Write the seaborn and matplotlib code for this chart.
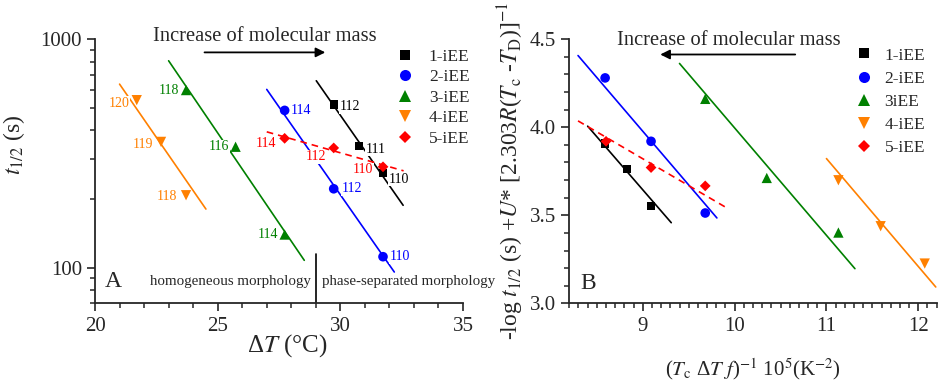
import matplotlib
matplotlib.use("Agg")
import numpy as np
import pandas as pd
import matplotlib.pyplot as plt
import matplotlib.ticker as mticker
import seaborn as sns

# ── series ──
SERIES_A = ['1-iEE', '2-iEE', '3-iEE', '4-iEE', '5-iEE']
SERIES_B = ['1-iEE', '2-iEE', '3iEE', '4-iEE', '5-iEE']
COLORS = ['#000000', '#0000ff', '#008000', '#ff8000', '#ff0000']
MARKERS = ['s', 'o', '^', 'v', 'D']
SIZES = [36, 48, 55, 55, 30]

# ── panel A: t1/2 vs dT ──
A_DT = [[29.73, 30.75, 31.74], [27.73, 29.73, 31.74], [23.71, 25.73, 27.73],
        [21.70, 22.69, 23.71], [27.73, 29.73, 31.74]]
A_T = [[519, 341, 260], [489, 222, 112], [600, 339, 140],
       [542, 356, 208], [369, 335, 277]]
A_LABELS = [['112', '111', '110'], ['114', '112', '110'], ['118', '116', '114'],
            ['120', '119', '118'], ['114', '112', '110']]
A_FIT_DT = [(29.02, 32.56), (27.0, 32.2), (23.0, 28.53), (21.0, 24.52), (27.0, 32.58)]
A_FIT_T = [(659, 188), (604, 96), (806, 108), (637, 181), (394, 266)]
BOUNDARY_DT = 29.0
BOUNDARY_TOP = 115

# ── panel B ──
B_X = [[8.59, 8.83, 9.09], [8.59, 9.09, 9.68], [9.68, 10.35, 11.13],
       [11.13, 11.59, 12.07], [8.60, 9.09, 9.68]]
B_Y = [[3.907, 3.761, 3.551], [4.280, 3.920, 3.513], [4.161, 3.712, 3.402],
       [3.699, 3.438, 3.226], [3.920, 3.771, 3.667]]
B_FIT_X = [(8.40, 9.31), (8.295, 9.807), (9.40, 11.31), (11.0, 12.19), (8.295, 9.908)]
B_FIT_Y = [(4.006, 3.458), (4.407, 3.485), (4.362, 3.197), (3.822, 3.093), (4.036, 3.544)]

# label offsets (pixels) for panel A point labels
LABEL_OFFSETS = [[(6, -2), (7, -3), (6, -6)],
                 [(6, 0), (8, 0), (7, 0)],
                 [(-7, 0), (-6, 0), (-6, 0)],
                 [(-7, -3), (-8, -3), (-9, -1)],
                 [(-8, -5), (-7, -9), (-10, -3)]]

sns.set_style('ticks')
plt.rcParams['font.family'] = ['Liberation Serif', 'DejaVu Serif']
plt.rcParams['mathtext.fontset'] = 'stix'
plt.rcParams['axes.linewidth'] = 1.3

fig = plt.figure(figsize=(9.41, 3.84), dpi=100)
axA = fig.add_axes([0.101, 0.210, 0.391, 0.6875])
axB = fig.add_axes([0.605, 0.210, 0.3904, 0.688])


def make_df(xs, ys, names):
    rows = []
    for name, xx, yy in zip(names, xs, ys):
        for a, b in zip(xx, yy):
            rows.append({'x': a, 'y': b, 'series': name})
    return pd.DataFrame(rows)


def draw(ax, xs, ys, names, fit_x, fit_y):
    for i in range(len(names)):
        ls = (0, (4, 3)) if i == 4 else '-'
        ax.plot(fit_x[i], fit_y[i], color=COLORS[i], lw=1.2, ls=ls, zorder=2)
    df = make_df(xs, ys, names)
    sns.scatterplot(data=df, x='x', y='y', hue='series', style='series', size='series',
                    palette=dict(zip(names, COLORS)), markers=dict(zip(names, MARKERS)),
                    sizes=dict(zip(names, SIZES)), hue_order=names, style_order=names,
                    size_order=names, edgecolor='none', linewidth=0, ax=ax, zorder=4)
    for side in ['top', 'right']:
        ax.spines[side].set_visible(False)
    ax.tick_params(which='major', direction='out', length=6, width=1.2, labelsize=15)
    ax.tick_params(which='minor', direction='out', length=3.5, width=1.1)


# ── panel A ──
draw(axA, A_DT, A_T, SERIES_A, A_FIT_DT, A_FIT_T)
axA.set_yscale('log')
axA.set_xlim(20, 35)
axA.set_ylim(70, 1000)
axA.xaxis.set_major_locator(mticker.MultipleLocator(5))
axA.xaxis.set_minor_locator(mticker.MultipleLocator(1))
axA.yaxis.set_major_locator(mticker.LogLocator(base=10, numticks=5))
axA.yaxis.set_major_formatter(mticker.FormatStrFormatter('%d'))
axA.yaxis.set_minor_locator(mticker.LogLocator(base=10, subs=np.arange(2, 10), numticks=20))
axA.yaxis.set_minor_formatter(mticker.NullFormatter())

for i in range(5):
    for x, y, lab, off in zip(A_DT[i], A_T[i], A_LABELS[i], LABEL_OFFSETS[i]):
        ha = 'left' if off[0] > 0 else 'right'
        axA.annotate(lab, (x, y), xytext=off, textcoords='offset pixels',
                     ha=ha, va='center', fontsize=10, color=COLORS[i], zorder=3,
                     bbox=dict(boxstyle='square,pad=0.05', fc='white', ec='none'))

axA.plot([BOUNDARY_DT, BOUNDARY_DT], [70, BOUNDARY_TOP], color='black', lw=1.2)
axA.text(28.78, 87, 'homogeneous morphology', ha='right', va='center', fontsize=10.8)
axA.text(29.25, 87, 'phase-separated morphology', ha='left', va='center', fontsize=10.8,
         clip_on=False)
axA.text(20.4, 87, 'A', ha='left', va='center', fontsize=17)
axA.text(26.94, 1026, 'Increase of molecular mass', ha='center', va='center',
         fontsize=14.8, clip_on=False)
axA.annotate('', xy=(29.5, 877), xytext=(24.35, 877),
             arrowprops=dict(arrowstyle='-|>', color='black', lw=1.3, mutation_scale=14))

axA.set_xlabel('Δ$T$ (°C)', fontsize=18)
axA.set_ylabel('$t_{1/2}$ (s)', fontsize=17)
axA.xaxis.set_label_coords(0.522, -0.11)
axA.yaxis.set_label_coords(-0.185, 0.6)

sns.move_legend(axA, loc='upper left', bbox_to_anchor=(0.82, 0.965), frameon=False,
                title=None, fontsize=12.5, handlelength=1.0, handletextpad=0.85,
                labelspacing=0.25, borderaxespad=0, borderpad=0, markerscale=1.15)

# ── panel B ──
draw(axB, B_X, B_Y, SERIES_B, B_FIT_X, B_FIT_Y)
axB.set_xlim(8.2, 12.2)
axB.set_ylim(3.0, 4.5)
axB.xaxis.set_major_locator(mticker.MultipleLocator(1))
axB.xaxis.set_minor_locator(mticker.MultipleLocator(0.1))
axB.yaxis.set_major_locator(mticker.MultipleLocator(0.5))
axB.yaxis.set_minor_locator(mticker.MultipleLocator(0.1))
axB.yaxis.set_major_formatter(mticker.FormatStrFormatter('%.1f'))

axB.text(8.325, 3.114, 'B', ha='left', va='center', fontsize=17)
axB.text(9.94, 4.494, 'Increase of molecular mass', ha='center', va='center',
         fontsize=14.8, clip_on=False)
axB.annotate('', xy=(9.16, 4.413), xytext=(10.69, 4.413),
             arrowprops=dict(arrowstyle='-|>', color='black', lw=1.3, mutation_scale=14))

axB.set_xlabel(r'($T_{\rm c}$ Δ$T$ $f$)$^{-1}$ 10$^{5}$(K$^{-2}$)', fontsize=15)
axB.set_ylabel(r'-log $t_{1/2}$ (s) +$U$* [2.303$R$($T_{\rm c}$ -$T_{\rm D}$)]$^{-1}$',
               fontsize=17)
axB.xaxis.set_label_coords(0.5, -0.2)
axB.yaxis.set_label_coords(-0.118, 0.5)

sns.move_legend(axB, loc='upper left', bbox_to_anchor=(0.778, 0.969), frameon=False,
                title=None, fontsize=12.5, handlelength=1.0, handletextpad=0.7,
                labelspacing=0.4, borderaxespad=0, borderpad=0, markerscale=1.15)

fig.savefig('out.png', dpi=100)
